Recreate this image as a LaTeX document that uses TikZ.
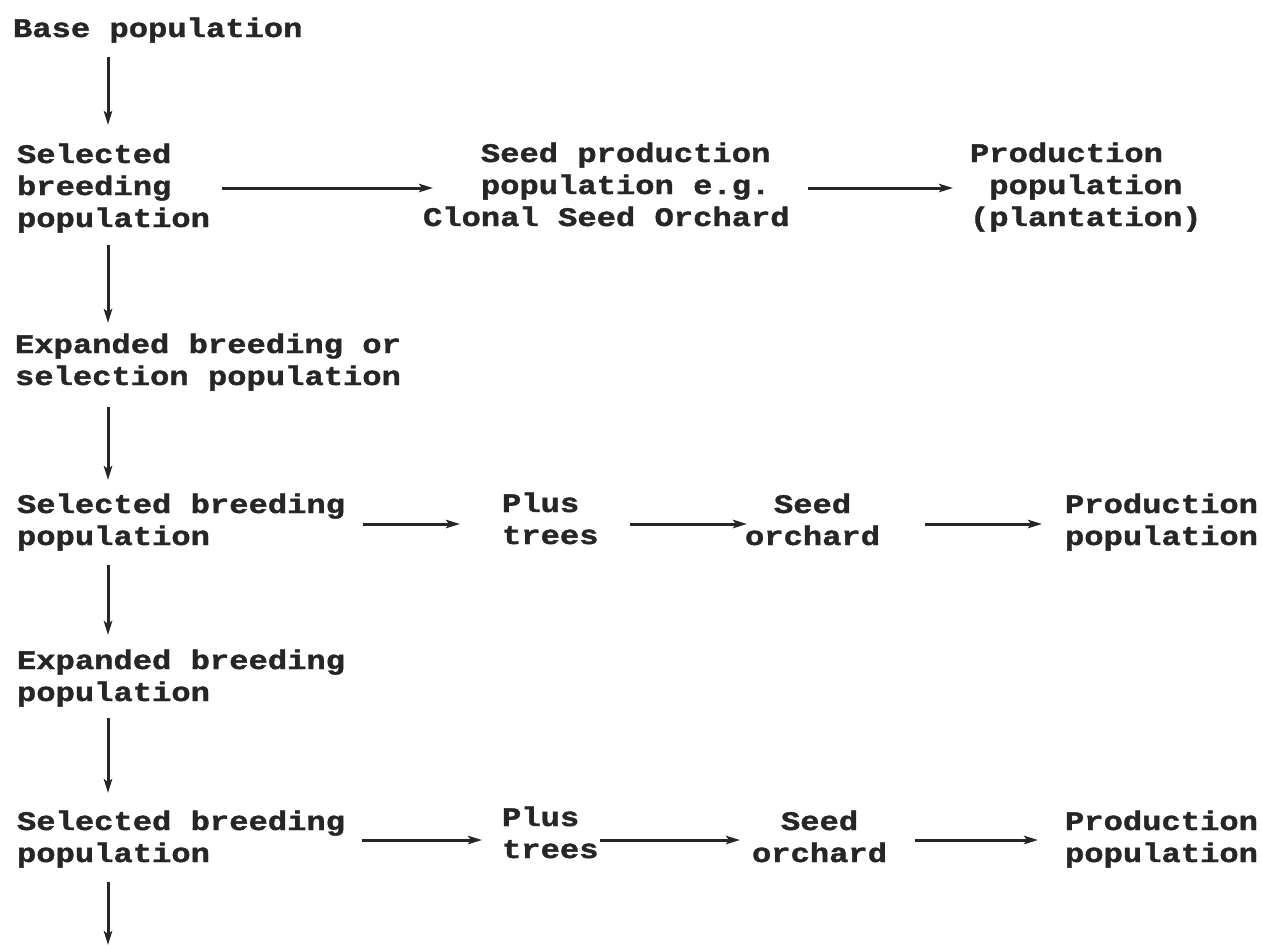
\documentclass[tikz,border=0pt]{standalone}
\usepackage{fontspec}
\newfontfamily\tw{Liberation Mono}[FakeStretch=1.2,FakeBold=1.4]
\usetikzlibrary{arrows.meta,calc}
\begin{document}
\begin{tikzpicture}[x=0.5pt,y=-0.5pt,
  lbl/.style={inner sep=0pt,outer sep=0pt,anchor=base west,align=left,
    text=black!85,font=\tw\bfseries\fontsize{13.4pt}{16pt}\selectfont},
  lblc/.style={lbl,align=center},
  arr/.style={line width=1.5pt,draw=black!85,-{Stealth[length=7pt,width=4.2pt,inset=1.5pt]}}]
\useasboundingbox (0,0) rectangle (1262,948);
\fill[white] (0,0) rectangle (1262,948);
% column axis for vertical arrows
\coordinate (ax) at (108,0);
% row 1 (base anchor = baseline of last line)
\node[lbl] (base) at (13,37) {Base population};
% row 2
\node[lbl] (sel1) at (17,227) {Selected\\breeding\\population};
\node[lbl] (seedprod) at (423,226) {\phantom{xxx}Seed production\\\phantom{xxx}population e.g.\\Clonal Seed Orchard};
\node[lbl] (prod1) at (970,226) {Production\\\phantom{x}population\\(plantation)};
% row 3
\node[lbl] (exp1) at (15,385) {Expanded breeding or\\selection population};
% row 4
\node[lbl] (sel2) at (17,545) {Selected breeding\\population};
\node[lbl] (plus2) at (502,544) {Plus\\trees};
\node[lblc] (orch2) at (745,545) {Seed\\orchard};
\node[lbl] (prod2) at (1065,545) {Production\\population};
% row 5
\node[lbl] (exp2) at (17,701) {Expanded breeding\\population};
% row 6
\node[lbl] (sel3) at (17,862) {Selected breeding\\population};
\node[lbl] (plus3) at (502,858) {Plus\\trees};
\node[lblc] (orch3) at (752,862) {Seed\\orchard};
\node[lbl] (prod3) at (1065,862) {Production\\population};
\coordinate (endc) at (108,945);
% vertical arrows
\draw[arr] (ax |- 0,57) -- (ax |- 0,125);
\draw[arr] (ax |- 0,245) -- (ax |- 0,323);
\draw[arr] (ax |- 0,407) -- (ax |- 0,480);
\draw[arr] (ax |- 0,565) -- (ax |- 0,635);
\draw[arr] (ax |- 0,718) -- (ax |- 0,793);
\draw[arr] (ax |- 0,882) -- (endc);
% horizontal arrows
\draw[arr] (222,188) -- (433,188);
\draw[arr] (808,188) -- (953,188);
\draw[arr] (363,524) -- (460,524);
\draw[arr] (630,524) -- (747,524);
\draw[arr] (925,524) -- (1042,524);
\draw[arr] (362,840) -- (482,840);
\draw[arr] (600,840) -- (740,840);
\draw[arr] (915,840) -- (1038,840);
\end{tikzpicture}
\end{document}
